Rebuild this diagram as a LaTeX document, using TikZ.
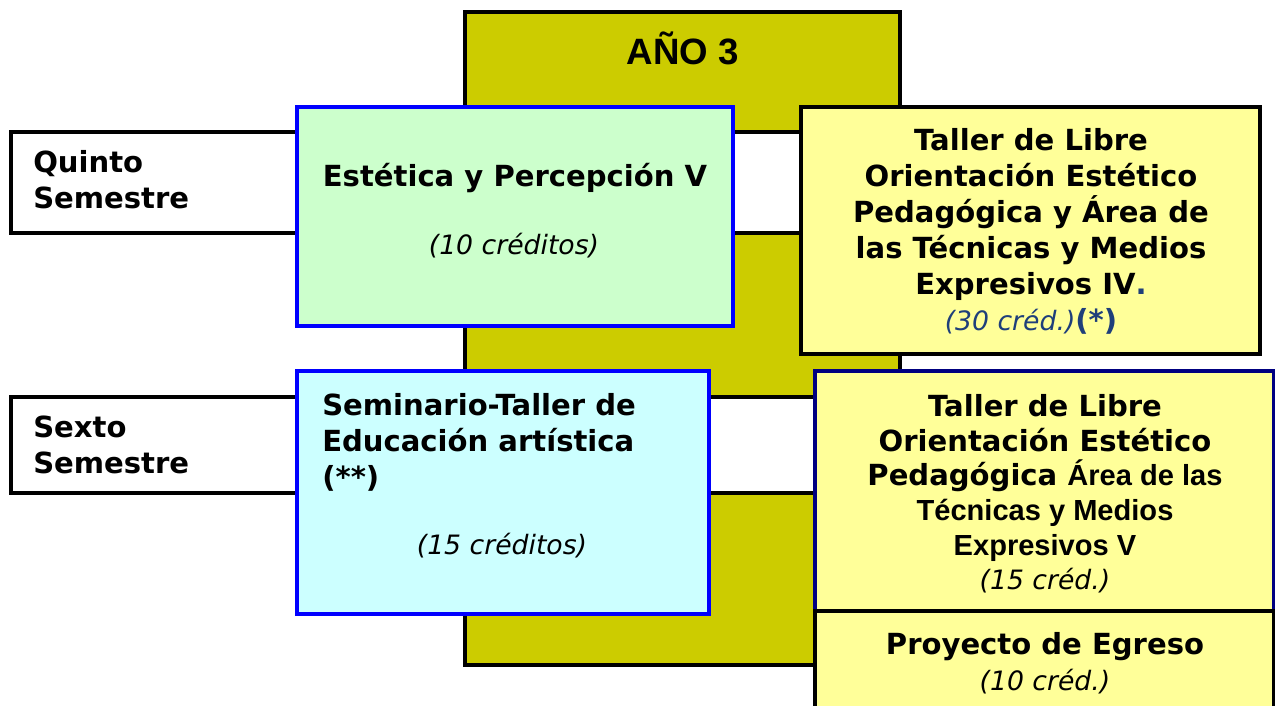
\documentclass[tikz,border=0pt]{standalone}
\usepackage{fontspec}
\setmainfont{DejaVu Sans}
\newfontfamily\arialfont{Liberation Sans}
\usetikzlibrary{fit}
\definecolor{anoolive}{HTML}{CCCC00}
\definecolor{mintfill}{HTML}{CCFFCC}
\definecolor{skyfill}{HTML}{CCFFFF}
\definecolor{paleyellow}{HTML}{FFFF99}
\definecolor{boxblue}{HTML}{0000FF}
\definecolor{navyline}{HTML}{000080}
\definecolor{credblue}{HTML}{1F3F7A}

\begin{document}
\begin{tikzpicture}[x = 0.75pt, y = -0.75pt,
    box/.style = {draw, line width = 2.6pt, inner sep = 0pt},
    bold/.style = {font = \bfseries\fontsize{21.8}{27}\selectfont, inner sep = 0pt},
    cred/.style = {font = \itshape\fontsize{20}{26}\selectfont, inner sep = 0pt}]
    \clip (0,0) rectangle (1275,706);
    \node[box, fill = anoolive, fit = {(465,12) (900,665)}] (ano) {};
    \node[box, fill = white, fit = {(11,132) (830,233)}] (quinto) {};
    \node[box, fill = white, fit = {(11,397) (840,493)}] (sexto) {};
    \node[box, draw = boxblue, fill = mintfill, fit = {(297,107) (733,326)}] (estetica) {};
    \node[box, draw = boxblue, fill = skyfill, fit = {(297,371) (709,614)}] (seminario) {};
    \node[box, fill = paleyellow, fit = {(801,107) (1260,354)}] (tallerIV) {};
    \node[box, draw = navyline, fill = paleyellow, fit = {(815,371) (1274,611)}] (tallerV) {};
    \node[box, fill = paleyellow, fit = {(815,611) (1274,740)}] (egreso) {};

    \node[font = \arialfont\bfseries\fontsize{27.5}{30}\selectfont] (anoT) at (683,48) {AÑO 3};
    \node[bold, align = left, anchor = west] (quintoT) at (33,180) {Quinto\\Semestre};
    \node[bold, align = left, anchor = west] (sextoT) at (33,445) {Sexto\\Semestre};
    \node[bold] (esteticaT) at (515,178) {Estética y Percepción V};
    \node[cred] (esteticaC) at (514,246) {(10 créditos)};
    \node[bold, align = left, anchor = west] (seminarioT) at (322,442)
        {Seminario-Taller de\\Educación artística\\(**)};
    \node[cred] (seminarioC) at (502,546) {(15 créditos)};
    \node[bold, align = center] (tallerIVT) at (1031,231)
        {Taller de Libre\\Orientación Estético\\Pedagógica y Área de\\las Técnicas y Medios\\
         Expresivos IV{\color{credblue}.}\\
         {\color{credblue}\normalfont\itshape\fontsize{20}{26}\selectfont(30 créd.)}{\color{credblue}(*)}};
    \node[bold, font = \bfseries\fontsize{21.8}{26}\selectfont, align = center] (tallerVT) at (1045,494)
        {Taller de Libre\\Orientación Estético\\Pedagógica {\arialfont Área de las}\\
         {\arialfont Técnicas y Medios}\\{\arialfont Expresivos V}\\
         {\normalfont\itshape\fontsize{20}{26}\selectfont(15 créd.)}};
    \node[bold, align = center] (egresoT) at (1045,663)
        {Proyecto de Egreso\\{\normalfont\itshape\fontsize{20}{26}\selectfont(10 créd.)}};
\end{tikzpicture}
\end{document}
